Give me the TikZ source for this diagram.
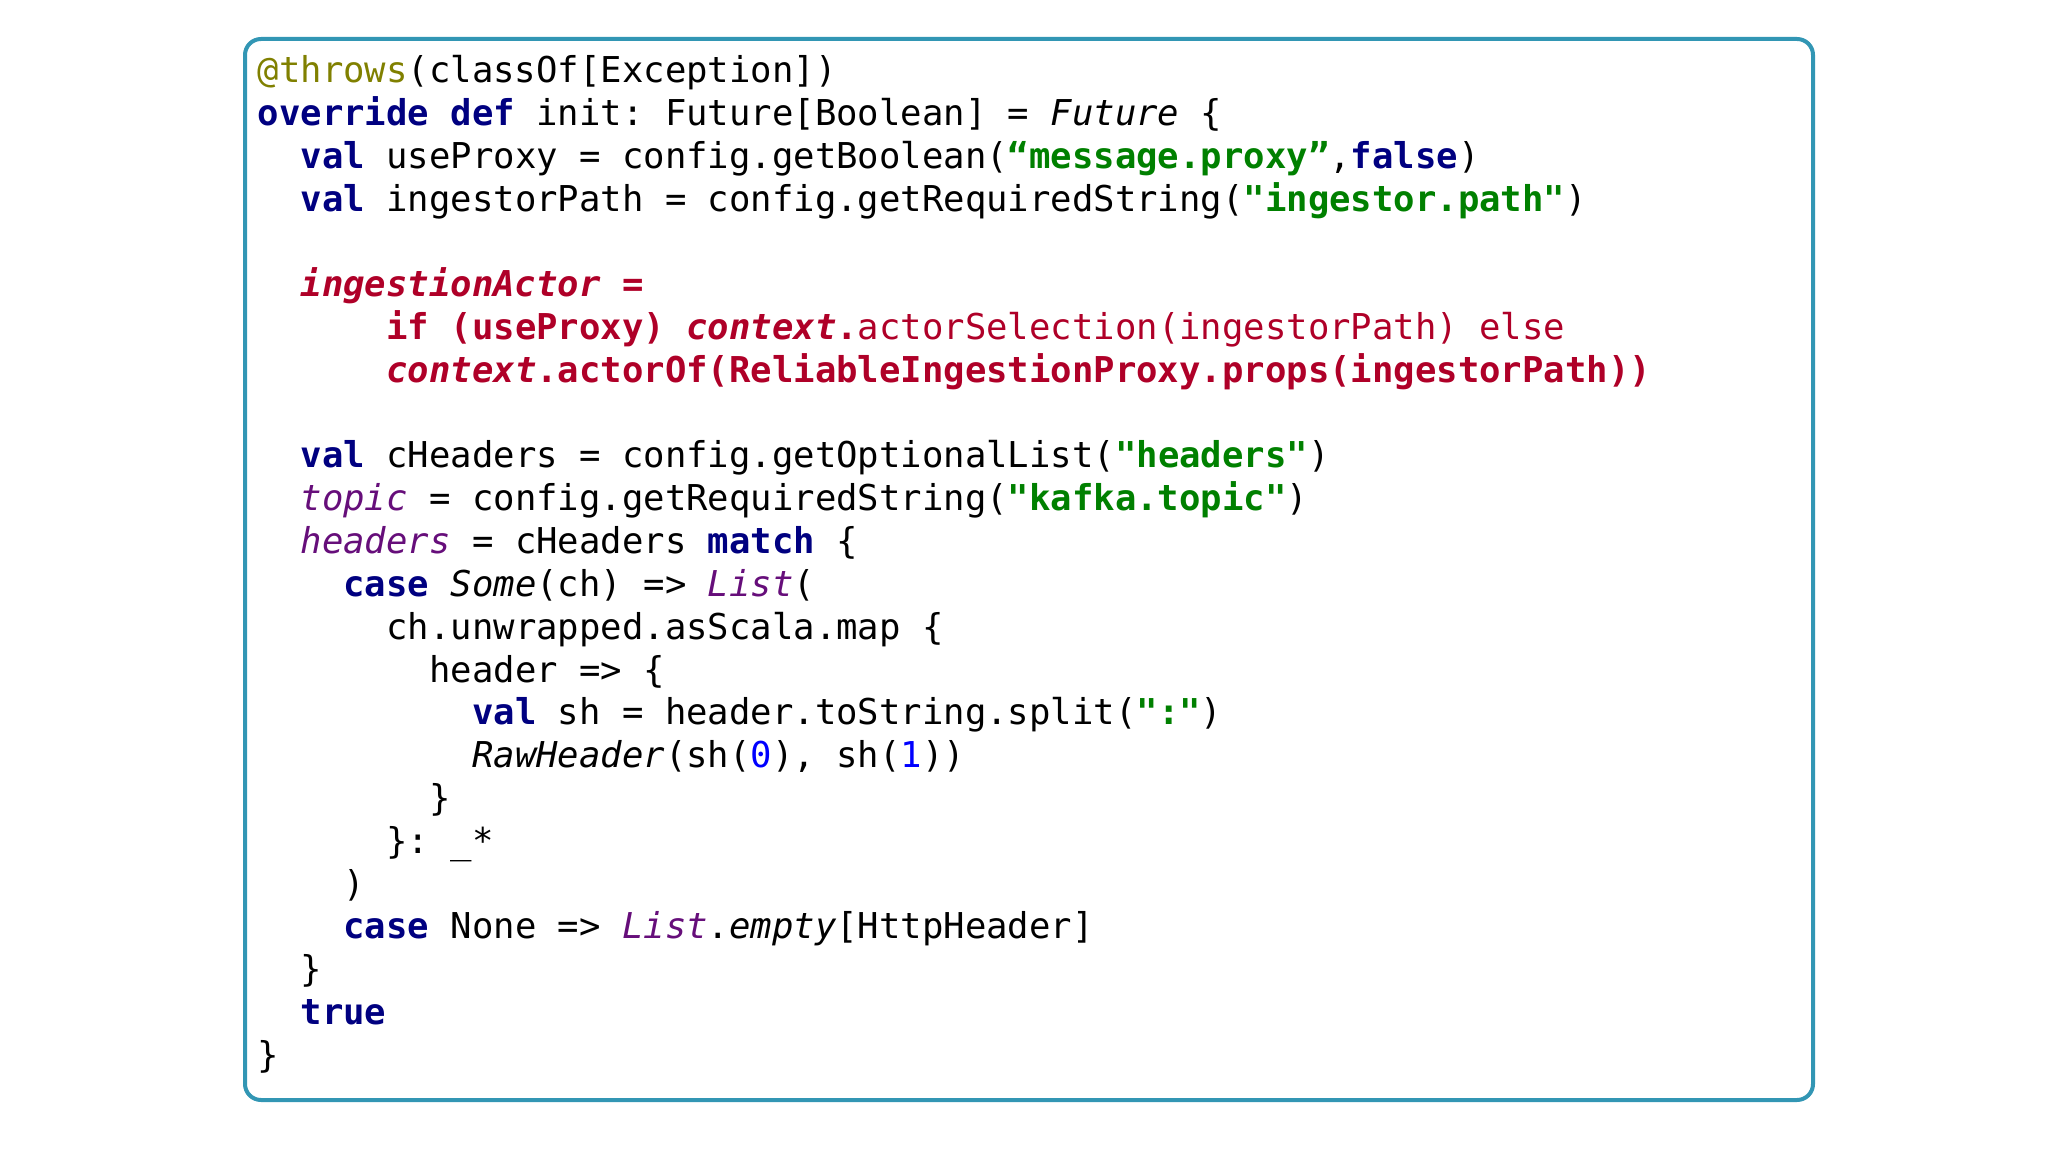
\documentclass[tikz,border=0pt]{standalone}
\usepackage{fontspec}
\setmonofont{DejaVu Sans Mono}
\definecolor{kw}{RGB}{0,0,128}
\definecolor{str}{RGB}{0,128,0}
\definecolor{rd}{RGB}{175,0,40}
\definecolor{pu}{RGB}{102,14,122}
\definecolor{ann}{RGB}{128,128,0}
\definecolor{num}{RGB}{0,0,255}
\definecolor{frame}{RGB}{50,150,180}
\newcommand{\K}[1]{\textcolor{kw}{\textbf{#1}}}
\newcommand{\St}[1]{\textcolor{str}{\textbf{#1}}}
\newcommand{\Pu}[1]{\textcolor{pu}{\textit{#1}}}
\newcommand{\N}[1]{\textcolor{num}{#1}}
\begin{document}
\begin{tikzpicture}[x=1pt,y=1pt,
  ln/.style={anchor=base west,inner sep=0pt,font=\fontsize{17.8}{21.4}\selectfont\ttfamily}]
\useasboundingbox (0,0) rectangle (1024,576);
\draw[frame,line width=2pt,rounded corners=8pt] (122.5,26) rectangle (906.5,556.5) node[coordinate](box){};
\def\cw{10.72}
\def\lx#1{128.7+#1*\cw}
\def\ly#1{534.6-#1*21.4}
\node[ln] (l0) at ({\lx0},{\ly0}) {\textcolor{ann}{@throws}(classOf[Exception])};
\node[ln] (l1) at ({\lx0},{\ly1}) {\K{override def} init: Future[Boolean] = \textit{Future} \{};
\node[ln] (l2) at ({\lx2},{\ly2}) {\K{val} useProxy = config.getBoolean(\St{“message.proxy”},\K{false})};
\node[ln] (l3) at ({\lx2},{\ly3}) {\K{val} ingestorPath = config.getRequiredString(\St{"ingestor.path"})};
\node[ln] (l5) at ({\lx2},{\ly5}) {\textcolor{rd}{\textbf{\textit{ingestionActor}} \textbf{=}}};
\node[ln] (l6) at ({\lx6},{\ly6}) {\textcolor{rd}{\textbf{if (useProxy)} \textbf{\textit{context}}\textbf{.}actorSelection(ingestorPath) else}};
\node[ln] (l7) at ({\lx6},{\ly7}) {\textcolor{rd}{\textbf{\textit{context}.actorOf(ReliableIngestionProxy.props(ingestorPath))}}};
\node[ln] (l9) at ({\lx2},{\ly9}) {\K{val} cHeaders = config.getOptionalList(\St{"headers"})};
\node[ln] (l10) at ({\lx2},{\ly{10}}) {\Pu{topic} = config.getRequiredString(\St{"kafka.topic"})};
\node[ln] (l11) at ({\lx2},{\ly{11}}) {\Pu{headers} = cHeaders \K{match} \{};
\node[ln] (l12) at ({\lx4},{\ly{12}}) {\K{case} \textit{Some}(ch) => \Pu{List}(};
\node[ln] (l13) at ({\lx6},{\ly{13}}) {ch.unwrapped.asScala.map \{};
\node[ln] (l14) at ({\lx8},{\ly{14}}) {header => \{};
\node[ln] (l15) at ({\lx{10}},{\ly{15}}) {\K{val} sh = header.toString.split(\St{":"})};
\node[ln] (l16) at ({\lx{10}},{\ly{16}}) {\textit{RawHeader}(sh(\N{0}), sh(\N{1}))};
\node[ln] (l17) at ({\lx8},{\ly{17}}) {\}};
\node[ln] (l18) at ({\lx6},{\ly{18}}) {\}: \_*};
\node[ln] (l19) at ({\lx4},{\ly{19}}) {)};
\node[ln] (l20) at ({\lx4},{\ly{20}}) {\K{case} None => \Pu{List}.\textit{empty}[HttpHeader]};
\node[ln] (l21) at ({\lx2},{\ly{21}}) {\}};
\node[ln] (l22) at ({\lx2},{\ly{22}}) {\K{true}};
\node[ln] (l23) at ({\lx0},{\ly{23}}) {\}};
\end{tikzpicture}
\end{document}
